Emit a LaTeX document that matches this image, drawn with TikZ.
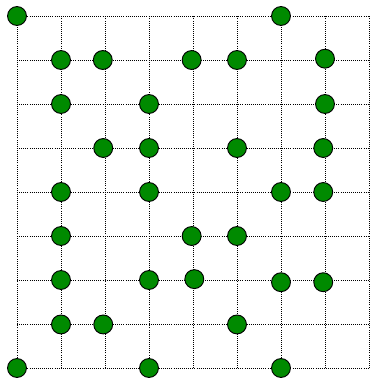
\documentclass[tikz,border=0pt]{standalone}
\usepackage{tikz}
\definecolor{dotgreen}{HTML}{008A00}

\begin{document}
\begin{tikzpicture}[
  gridline/.style={black,line width=0.45pt,dash pattern=on 0.6pt off 0.75pt},
  token/.style={circle,draw=black,line width=0.6pt,fill=dotgreen,inner sep=0pt,minimum size=0.43cm}]
\useasboundingbox (-0.386,-0.227) rectangle (8.023,8.364);
\draw[gridline] (0,0) grid (8,8);
\foreach \x/\y/\n in {0/8/a1,6/8/a2,
  1/7/b1,1.95/7/b2,3.97/7/b3,5/7/b4,7/7.03/b5,
  1/6/c1,3/6/c2,7/6/c3,
  1.96/5/d1,3/5/d2,5/5/d3,6.96/5/d4,
  1/4/e1,3/4/e2,6/4/e3,6.96/4/e4,
  1/3/f1,3.97/3/f2,5/3/f3,
  1/2/g1,3/2/g2,4.03/2.02/g3,6/1.95/g4,6.96/1.95/g5,
  1/0.99/h1,1.96/0.99/h2,5/0.99/h3,
  0/0/i1,3/0/i2,6/0/i3}{
  \node[token] (\n) at (\x,\y) {};}
\end{tikzpicture}
\end{document}
